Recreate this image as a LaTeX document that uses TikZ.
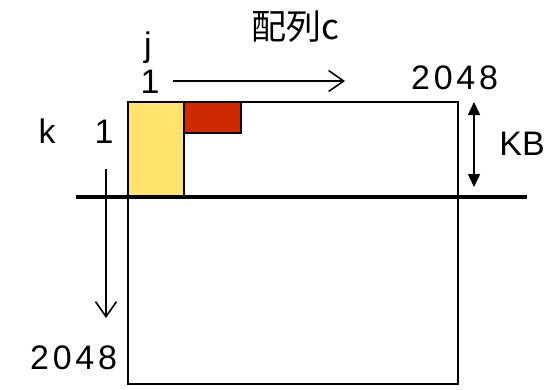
\documentclass[tikz,border=0pt]{standalone}
\usepackage{fontspec}
\setmainfont{Liberation Sans}
\newfontfamily\cjk{Noto Sans CJK JP}
\usetikzlibrary{arrows.meta}
\definecolor{yel}{RGB}{255,227,108}
\definecolor{redb}{RGB}{206,41,0}
\begin{document}
\begin{tikzpicture}[x={(1pt,0)},y={(0,-1pt)},
  lbl/.style={inner sep=0pt,font=\fontsize{34}{38}\selectfont},
  spaced/.style={inner sep=0pt,font=\fontsize{34}{38}\selectfont\addfontfeatures{LetterSpace=11}},
  box/.style={draw=black,line width=1.5pt},
  thinarrow/.style={line width=1.6pt,-{Straight Barb[length=15pt,width=21pt,line width=1.6pt]}},
  dblarrow/.style={line width=1.5pt,{Triangle[length=13pt,width=12pt]}-{Triangle[length=13pt,width=12pt]}}]
\useasboundingbox (0,0) rectangle (551,389);
% main matrix
\node[box,minimum width=330pt,minimum height=282pt,inner sep=0pt,anchor=north west] (mat) at (127,101) {};
\node[box,fill=yel,minimum width=56pt,minimum height=96pt,inner sep=0pt,anchor=north west] (yb) at (127,101) {};
\node[box,fill=redb,minimum width=57pt,minimum height=31pt,inner sep=0pt,anchor=north west] (rb) at (183,101) {};
% thick separator
\coordinate (sl) at (76,197);
\coordinate (sr) at (527,197);
\draw[line width=4.6pt] (sl) -- (sr);
% arrows
\coordinate (ha) at (173,81);
\coordinate (hb) at (345,81);
\draw[thinarrow] (ha) -- (hb);
\coordinate (va) at (106,169);
\coordinate (vb) at (106,318);
\draw[thinarrow] (va) -- (vb);
\coordinate (ka) at (474,102);
\coordinate (kb) at (474,187);
\draw[dblarrow] (ka) -- (kb);
% labels
\node[inner sep=0pt,anchor=base,font=\fontsize{35}{39}\selectfont\cjk] (title) at (295,39) {配列c};
\node[lbl,anchor=base] (j) at (148,56) {j};
\node[lbl,anchor=base] (one1) at (150,93) {1};
\node[spaced,anchor=base west] (n1) at (411,89) {2048};
\node[lbl,anchor=base] (kbl) at (522,155) {KB};
\node[lbl,anchor=base] (k) at (47,143) {k};
\node[lbl,anchor=base] (one2) at (104,143) {1};
\node[spaced,anchor=base west] (n2) at (30,369) {2048};
\end{tikzpicture}
\end{document}
